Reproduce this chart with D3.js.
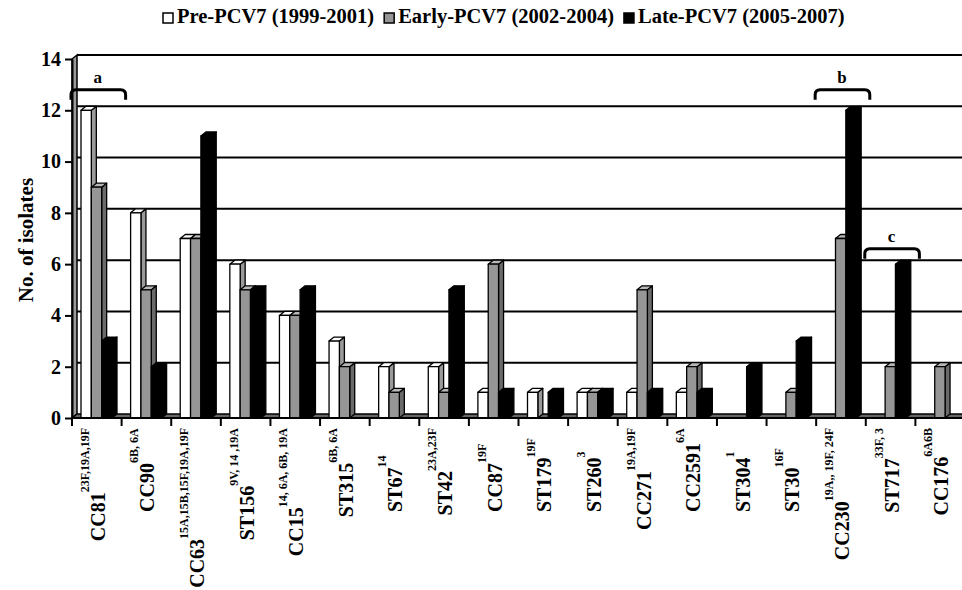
<!DOCTYPE html>
<html>
<head>
<meta charset="utf-8">
<script src="https://cdn.jsdelivr.net/npm/d3@7"></script>
<style>
  body { margin: 0; background: #fff; }
  svg { font-family: "Liberation Serif", "Times New Roman", serif; font-weight: bold; }
</style>
</head>
<body>
<svg id="chart"></svg>
<script>
// categories (clonal complex / sequence type) and their serotype superscripts
const categories = ["CC81", "CC90", "CC63", "ST156", "CC15", "ST315", "ST67", "ST42", "CC87",
  "ST179", "ST260", "CC271", "CC2591", "ST304", "ST30", "CC230", "ST717", "CC176"];
const superscripts = ["23F,19A,19F", "6B, 6A", "15A,15B,15F,19A,19F", "9V, 14 ,19A", "14, 6A, 6B, 19A",
  "6B, 6A", "14", "23A,23F", "19F", "19F", "3", "19A,19F", "6A", "1", "16F", "19A,, 19F, 24F", "33F, 3", "6A6B"];

const series = ["Pre-PCV7 (1999-2001)", "Early-PCV7 (2002-2004)", "Late-PCV7 (2005-2007)"];
const prePCV7 = [12, 8, 7, 6, 4, 3, 2, 2, 1, 1, 1, 1, 1, 0, 0, 0, 0, 0];
const earlyPCV7 = [9, 5, 7, 5, 4, 2, 1, 1, 6, 0, 1, 5, 2, 0, 1, 7, 2, 2];
const latePCV7 = [3, 2, 11, 5, 5, 0, 0, 5, 1, 1, 1, 1, 1, 2, 3, 12, 6, 0];

const yTicks = [0, 2, 4, 6, 8, 10, 12, 14];

// bracket annotations over groups
const brackets = [
  { label: "a", category: "CC81", level: 12.8 },
  { label: "b", category: "CC230", level: 12.8 },
  { label: "c", category: "ST717", level: 6.6 }
];

const width = 962, height = 590;
const dx = 5, dy = 4; // 3D depth offset

// face colours per series: front, top, side
const faces = {
  [series[0]]: { front: "#ffffff", top: "#ffffff", side: "#9a9a9a" },
  [series[1]]: { front: "#969696", top: "#b8b8b8", side: "#6a6a6a" },
  [series[2]]: { front: "#000000", top: "#000000", side: "#000000" }
};

const svg = d3.select("#chart")
  .attr("width", width)
  .attr("height", height);

const x = d3.scaleBand().domain(categories).range([72, 965]);
const xs = d3.scaleBand().domain(series).range([9, 40]);
const y = d3.scaleLinear().domain([0, 14]).range([418, 59]);

const xEnd = x.range()[1];

// back wall gridlines
svg.append("g")
  .selectAll("line")
  .data(yTicks.filter(v => v > 0))
  .join("line")
  .attr("x1", 72 + dx)
  .attr("x2", xEnd + dx)
  .attr("y1", d => y(d) - dy)
  .attr("y2", d => y(d) - dy)
  .attr("stroke", "#000")
  .attr("stroke-width", 2);

// left side wall
svg.append("path")
  .attr("d", `M72,${y(0)}L${72 + dx},${y(0) - dy}L${72 + dx},${y(14) - dy}L72,${y(14)}Z`)
  .attr("fill", "#9a9a9a")
  .attr("stroke", "#000")
  .attr("stroke-width", 1.5);

// floor
svg.append("path")
  .attr("d", `M72,${y(0)}L${xEnd},${y(0)}L${xEnd + dx},${y(0) - dy}L${72 + dx},${y(0) - dy}Z`)
  .attr("fill", "#666")
  .attr("stroke", "#000")
  .attr("stroke-width", 1.5);

// bars
const rows = [];
categories.forEach((c, i) => {
  [prePCV7[i], earlyPCV7[i], latePCV7[i]].forEach((v, j) => {
    rows.push({ category: c, series: series[j], value: v });
  });
});

const w = xs.bandwidth();
const bars = svg.append("g")
  .selectAll("g")
  .data(rows.filter(d => d.value > 0))
  .join("g")
  .attr("stroke", "#000")
  .attr("stroke-width", 1.3)
  .attr("stroke-linejoin", "round");

bars.append("path") // side face
  .attr("d", d => {
    const bx = x(d.category) + xs(d.series) + w, top = y(d.value), base = y(0);
    return `M${bx},${base}L${bx},${top}L${bx + dx},${top - dy}L${bx + dx},${base - dy}Z`;
  })
  .attr("fill", d => faces[d.series].side);

bars.append("path") // top face
  .attr("d", d => {
    const bx = x(d.category) + xs(d.series), top = y(d.value);
    return `M${bx},${top}L${bx + w},${top}L${bx + w + dx},${top - dy}L${bx + dx},${top - dy}Z`;
  })
  .attr("fill", d => faces[d.series].top);

bars.append("rect") // front face
  .attr("x", d => x(d.category) + xs(d.series))
  .attr("y", d => y(d.value))
  .attr("width", w)
  .attr("height", d => y(0) - y(d.value))
  .attr("fill", d => faces[d.series].front);

// y axis
const yAxis = svg.append("g")
  .attr("transform", "translate(72,0)")
  .call(d3.axisLeft(y).tickValues(yTicks).tickSize(7).tickSizeOuter(0).tickPadding(4));
yAxis.select(".domain").attr("stroke-width", 2);
yAxis.selectAll(".tick line").attr("stroke-width", 2);
yAxis.selectAll(".tick text")
  .attr("font-family", "'Liberation Serif', 'Times New Roman', serif")
  .attr("font-size", 20)
  .attr("font-weight", "bold")
  .attr("fill", "#000");

svg.append("text")
  .attr("transform", "translate(33,240) rotate(-90)")
  .attr("text-anchor", "middle")
  .attr("font-size", 21)
  .text("No. of isolates");

// x axis line and boundary ticks
svg.append("line")
  .attr("x1", 72).attr("x2", xEnd)
  .attr("y1", y(0)).attr("y2", y(0))
  .attr("stroke", "#000").attr("stroke-width", 2);

svg.append("g")
  .selectAll("line")
  .data(categories.map(c => x(c)).concat([xEnd]))
  .join("line")
  .attr("x1", d => d).attr("x2", d => d)
  .attr("y1", y(0)).attr("y2", y(0) + 8)
  .attr("stroke", "#000").attr("stroke-width", 2);

// category labels with serotype superscripts
const labels = svg.append("g")
  .selectAll("text")
  .data(categories)
  .join("text")
  .attr("text-anchor", "start");
labels.append("tspan")
  .attr("font-size", 20)
  .text(d => d);
labels.append("tspan")
  .attr("font-size", 12)
  .attr("dy", -16)
  .text((d, i) => superscripts[i]);
// short labels start at a common line, long ones reach up to just below the ticks
labels.each(function(d) {
  const len = this.getComputedTextLength();
  const start = Math.max(512, 428 + len);
  d3.select(this).attr("transform", `translate(${x(d) + x.bandwidth() / 2 + 8},${start}) rotate(-90)`);
});

// brackets
const br = svg.append("g")
  .selectAll("g")
  .data(brackets)
  .join("g");
br.append("path")
  .attr("d", d => {
    const a = x(d.category) - 1, b = x(d.category) + x.bandwidth() + 4, t = y(d.level);
    return `M${a},${t + 10}L${a},${t + 5}Q${a},${t} ${a + 5},${t}L${b - 5},${t}Q${b},${t} ${b},${t + 5}L${b},${t + 10}`;
  })
  .attr("fill", "none")
  .attr("stroke", "#000")
  .attr("stroke-width", 3);
br.append("text")
  .attr("x", d => x(d.category) + x.bandwidth() / 2 + 1)
  .attr("y", d => y(d.level) - 7)
  .attr("text-anchor", "middle")
  .attr("font-size", 17)
  .text(d => d.label);

// legend
const legend = svg.append("g");
let lx = 163;
series.forEach(s => {
  legend.append("rect")
    .attr("x", lx).attr("y", 13)
    .attr("width", 10).attr("height", 10)
    .attr("fill", faces[s].front)
    .attr("stroke", "#000").attr("stroke-width", 1.5);
  const t = legend.append("text")
    .attr("x", lx + 14).attr("y", 23)
    .attr("font-size", 20.5)
    .text(s);
  lx += 14 + t.node().getComputedTextLength() + 10;
});
</script>
</body>
</html>
